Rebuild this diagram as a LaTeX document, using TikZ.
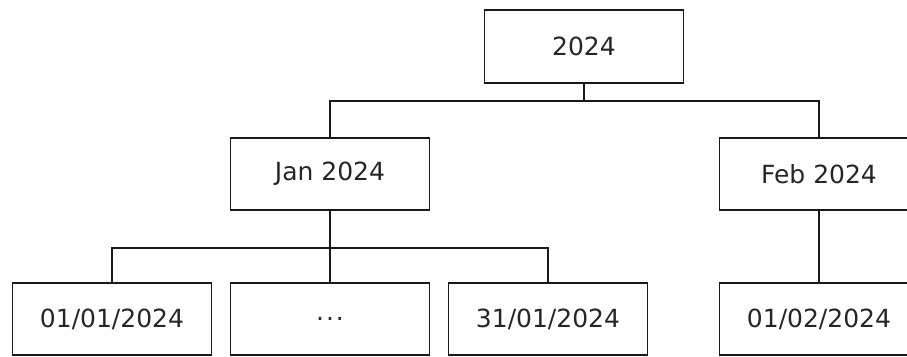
\documentclass[tikz,border=0pt]{standalone}
\usepackage{fontspec}
\setmainfont{DejaVu Sans}
\begin{document}
\begin{tikzpicture}[x=1pt,y=-1pt,
  box/.style={draw=black!90, line width=1.4pt, minimum width=199pt, minimum height=72pt, inner sep=0pt,
    font=\fontsize{25}{29}\selectfont, text=black!85},
  link/.style={draw=black!90, line width=1.6pt}]
\useasboundingbox (0,0) rectangle (907,356);
\clip (0,0) rectangle (907,356);
\node[box, minimum height=73pt] (top) at (584,46.5) {2024};
\node[box] (jan) at (330,174) {Jan 2024};
\node[box] (feb) at (819,174) {Feb 2024};
\node[box] (d1) at (112,319) {01/01/2024};
\node[box] (d2) at (330,319) {.\kern2pt.\kern2pt.};
\node[box] (d3) at (548,319) {31/01/2024};
\node[box] (d4) at (819,319) {01/02/2024};
\draw[link] (top.south) -- ++(0,17) -| (jan.north);
\draw[link] (top.south) -- ++(0,17) -| (feb.north);
\draw[link] (jan.south) -- ++(0,37) -| (d1.north);
\draw[link] (jan.south) -- (d2.north);
\draw[link] (jan.south) -- ++(0,37) -| (d3.north);
\draw[link] (feb.south) -- (d4.north);
\end{tikzpicture}
\end{document}
